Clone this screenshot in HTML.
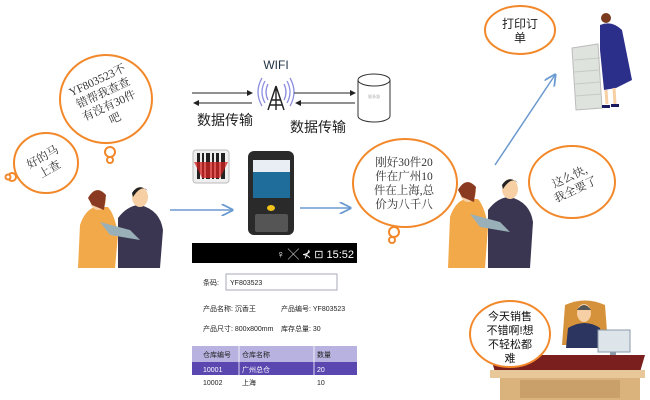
<!DOCTYPE html>
<html><head><meta charset="utf-8"><style>
html,body{margin:0;padding:0;background:#fff;}
svg{display:block;}
text{font-family:"Liberation Serif","Noto Serif CJK SC",serif;}
.s text, text.s{font-family:"Liberation Sans","Noto Sans CJK SC",sans-serif;}
</style></head><body>
<svg width="650" height="400" viewBox="0 0 650 400" xmlns="http://www.w3.org/2000/svg">
<defs>
<marker id="ab" markerWidth="8" markerHeight="8" refX="7" refY="4" orient="auto"><path d="M0,0 L8,4 L0,8" fill="none" stroke="#6a9ad0" stroke-width="1.2"/></marker>
<marker id="ak" markerWidth="6" markerHeight="6" refX="5" refY="3" orient="auto"><path d="M0,0 L6,3 L0,6 z" fill="#222"/></marker>
</defs>
<g fill="#fff" stroke="#f2882a" stroke-width="2">
<ellipse cx="106" cy="99" rx="46" ry="44"/>
<circle cx="110" cy="152" r="5"/><circle cx="110" cy="160" r="3"/>
<ellipse cx="46" cy="163" rx="32" ry="30"/>
<circle cx="12" cy="177" r="4"/><circle cx="8" cy="177" r="2.5"/>
<ellipse cx="405" cy="183" rx="52" ry="44"/>
<circle cx="394" cy="232" r="5"/><circle cx="392" cy="240" r="3"/>
<ellipse cx="520" cy="30" rx="35" ry="24"/>
<ellipse cx="572" cy="182" rx="43" ry="36"/>
</g>
<g font-size="11.5" fill="#333" text-anchor="middle">
<g transform="rotate(-25 106 99)"><text x="106" y="82">YF803523不</text><text x="106" y="96">错帮我查查</text><text x="106" y="110">有没有30件</text><text x="106" y="124">吧</text></g>
<g transform="rotate(-30 46 163)"><text x="46" y="160">好的马</text><text x="46" y="174">上查</text></g>
<text x="404" y="166">刚好30件20</text><text x="404" y="180">件在广州10</text><text x="404" y="194">件在上海,总</text><text x="404" y="208">价为八千八</text>
<g transform="rotate(-25 572 182)"><text x="572" y="180">这么快,</text><text x="572" y="194">我全要了</text></g>
</g>
<g class="s" font-size="12" fill="#222" text-anchor="middle"><text x="520" y="28">打印订</text><text x="520" y="42">单</text></g>
<g>
<path d="M78,268 L80,225 Q85,210 95,207 L108,207 Q115,215 118,235 L115,268z" fill="#f2a94a"/>
<ellipse cx="98" cy="200" rx="8" ry="10" fill="#f6cfa4"/>
<path d="M88,198 Q96,184 106,195 L104,210 L92,205z" fill="#8a3a20"/>
<path d="M118,268 L118,218 Q128,205 140,205 Q160,210 163,230 L160,268z" fill="#3a3550"/>
<ellipse cx="140" cy="197" rx="8" ry="10" fill="#f6cfa4"/>
<path d="M132,193 Q139,182 149,192 L146,189 Q140,186 133,197z" fill="#222"/>
<path d="M100,222 L130,230 L140,240 L110,235z" fill="#9ab0b8"/>
</g>
<g transform="translate(370,-8)">
<path d="M78,276 L80,225 Q85,210 95,207 L108,207 Q115,215 118,235 L115,276z" fill="#f2a94a"/>
<ellipse cx="98" cy="200" rx="8" ry="10" fill="#f6cfa4"/>
<path d="M88,198 Q96,184 106,195 L104,210 L92,205z" fill="#8a3a20"/>
<path d="M118,276 L118,218 Q128,205 140,205 Q160,210 163,230 L160,276z" fill="#3a3550"/>
<ellipse cx="140" cy="197" rx="8" ry="10" fill="#f6cfa4"/>
<path d="M132,193 Q139,182 149,192 L146,189 Q140,186 133,197z" fill="#222"/>
<path d="M100,222 L130,230 L140,240 L110,235z" fill="#9ab0b8"/>
</g>
<g stroke="#6a9ad0" stroke-width="1.5" fill="none">
<line x1="170" y1="210" x2="232" y2="210" marker-end="url(#ab)"/>
<line x1="300" y1="208" x2="350" y2="208" marker-end="url(#ab)"/>
<line x1="495" y1="165" x2="555" y2="75" marker-end="url(#ab)"/>
</g>
<text class="s" x="276" y="69" font-size="12" fill="#234" text-anchor="middle">WIFI</text>
<g fill="none" stroke="#8d8ee0" stroke-width="1.3">
<path d="M268,84 Q264,92 268,100"/><path d="M265,81 Q259,92 265,103"/><path d="M262,78 Q254,92 262,106"/>
<path d="M284,84 Q288,92 284,100"/><path d="M287,81 Q293,92 287,103"/><path d="M290,78 Q298,92 290,106"/>
</g>
<g stroke="#222" stroke-width="1.4" fill="none"><path d="M276,86 L268,110 M276,86 L284,110 M271,100 L281,100 M270,105 L282,105 M276,86 L276,110"/></g>
<g stroke="#222" stroke-width="1">
<line x1="192" y1="93" x2="252" y2="93" marker-end="url(#ak)"/>
<line x1="252" y1="103" x2="194" y2="103" marker-end="url(#ak)"/>
<line x1="294" y1="93" x2="355" y2="93" marker-end="url(#ak)"/>
<line x1="355" y1="103" x2="296" y2="103" marker-end="url(#ak)"/>
</g>
<g class="s" font-size="14" fill="#222"><text x="197" y="125">数据传输</text><text x="290" y="132">数据传输</text></g>
<g fill="#fff" stroke="#333" stroke-width="1"><path d="M358,80 L358,116 A16,6 0 0 0 390,116 L390,80"/><ellipse cx="374" cy="80" rx="16" ry="6"/></g>
<text x="374" y="98" font-size="4" fill="#999" text-anchor="middle">服务器</text>
<rect x="193" y="150" width="36" height="33" rx="3" fill="#eee" stroke="#bbb"/>
<g fill="#222"><rect x="197" y="153" width="3" height="26"/><rect x="202" y="153" width="2" height="26"/><rect x="206" y="153" width="4" height="26"/><rect x="212" y="153" width="2" height="26"/><rect x="216" y="153" width="3" height="26"/><rect x="221" y="153" width="4" height="26"/></g>
<path d="M194,162 L228,162 L220,178 L202,178z" fill="#d42020" opacity="0.75"/>
<rect x="248" y="151" width="46" height="84" rx="6" fill="#2a2a2a"/>
<rect x="253" y="160" width="37" height="38" fill="#1e6d9a"/>
<rect x="253" y="160" width="37" height="12" fill="#e8eef4"/>
<ellipse cx="271" cy="208" rx="4" ry="3" fill="#f2c21a"/>
<rect x="255" y="214" width="33" height="18" rx="2" fill="#555"/>
<rect x="192" y="243" width="165" height="20" fill="#000"/>
<text class="s" x="354" y="258" font-size="11" fill="#fff" text-anchor="end">♀ ╳ ⊀ ⊡ 15:52</text>
<g class="s" font-size="7" fill="#222">
<text x="203" y="285">条码:</text>
<rect x="226" y="274" width="111" height="16" fill="#fff" stroke="#aab"/>
<text x="230" y="285">YF803523</text>
<text x="203" y="311">产品名称: 沉香王</text><text x="281" y="311">产品编号: YF803523</text>
<text x="203" y="331">产品尺寸: 800x800mm</text><text x="281" y="331">库存总量: 30</text>
</g>
<rect x="192" y="346" width="165" height="16" fill="#b8b2e0"/>
<rect x="192" y="362" width="165" height="13" fill="#5a48b0"/>
<g stroke="#fff" stroke-width="0.8"><line x1="239" y1="346" x2="239" y2="390"/><line x1="314" y1="346" x2="314" y2="390"/></g>
<g class="s" font-size="7"><text x="203" y="357" fill="#222">仓库编号</text><text x="242" y="357" fill="#222">仓库名称</text><text x="317" y="357" fill="#222">数量</text>
<text x="203" y="372" fill="#fff">10001</text><text x="242" y="372" fill="#fff">广州总仓</text><text x="317" y="372" fill="#fff">20</text>
<text x="203" y="385" fill="#222">10002</text><text x="242" y="385" fill="#222">上海</text><text x="317" y="385" fill="#222">10</text></g>
<path d="M572,48 L598,44 L602,108 L576,110z" fill="#dfe3de" stroke="#bbb"/>
<g stroke="#c6cbc6"><line x1="574" y1="60" x2="600" y2="58"/><line x1="574" y1="72" x2="600" y2="70"/><line x1="575" y1="84" x2="601" y2="82"/><line x1="575" y1="96" x2="601" y2="94"/></g>
<path d="M600,25 Q612,20 622,30 L632,80 L616,88 L604,90 L600,50z" fill="#2c2f8a"/>
<circle cx="606" cy="18" r="5" fill="#7a3a20"/>
<path d="M606,90 L607,104 M614,88 L615,104" stroke="#f6cfa4" stroke-width="3"/>
<path d="M602,105 L610,105 L610,108 L602,108z M611,104 L619,104 L619,107 L611,107z" fill="#1a1a60"/>
<path d="M565,305 Q585,296 605,305 L608,345 L562,345z" fill="#d5923a"/>
<path d="M568,328 Q585,318 600,328 L602,348 L566,348z" fill="#2c3560"/>
<ellipse cx="584" cy="313" rx="7" ry="9" fill="#f6cfa4"/>
<path d="M577,310 Q584,300 591,310" fill="#555"/>
<rect x="598" y="330" width="32" height="22" fill="#dde4ea" stroke="#8a9aa8"/>
<rect x="610" y="352" width="6" height="4" fill="#8a9aa8"/>
<path d="M490,355 L645,355 L640,372 L495,372z" fill="#7a1e1e"/>
<rect x="490" y="370" width="155" height="8" fill="#e8c898"/>
<rect x="500" y="378" width="140" height="22" fill="#d9b27c"/>
<rect x="520" y="380" width="100" height="18" fill="#c9a06a"/>
<ellipse cx="510" cy="334" rx="40" ry="33" fill="#fff" stroke="#f2882a" stroke-width="2"/>
<g class="s" font-size="11" fill="#111" text-anchor="middle"><text x="510" y="320">今天销售</text><text x="510" y="334">不错啊!想</text><text x="510" y="348">不轻松都</text><text x="510" y="362">难</text></g>
</svg>
</body></html>
